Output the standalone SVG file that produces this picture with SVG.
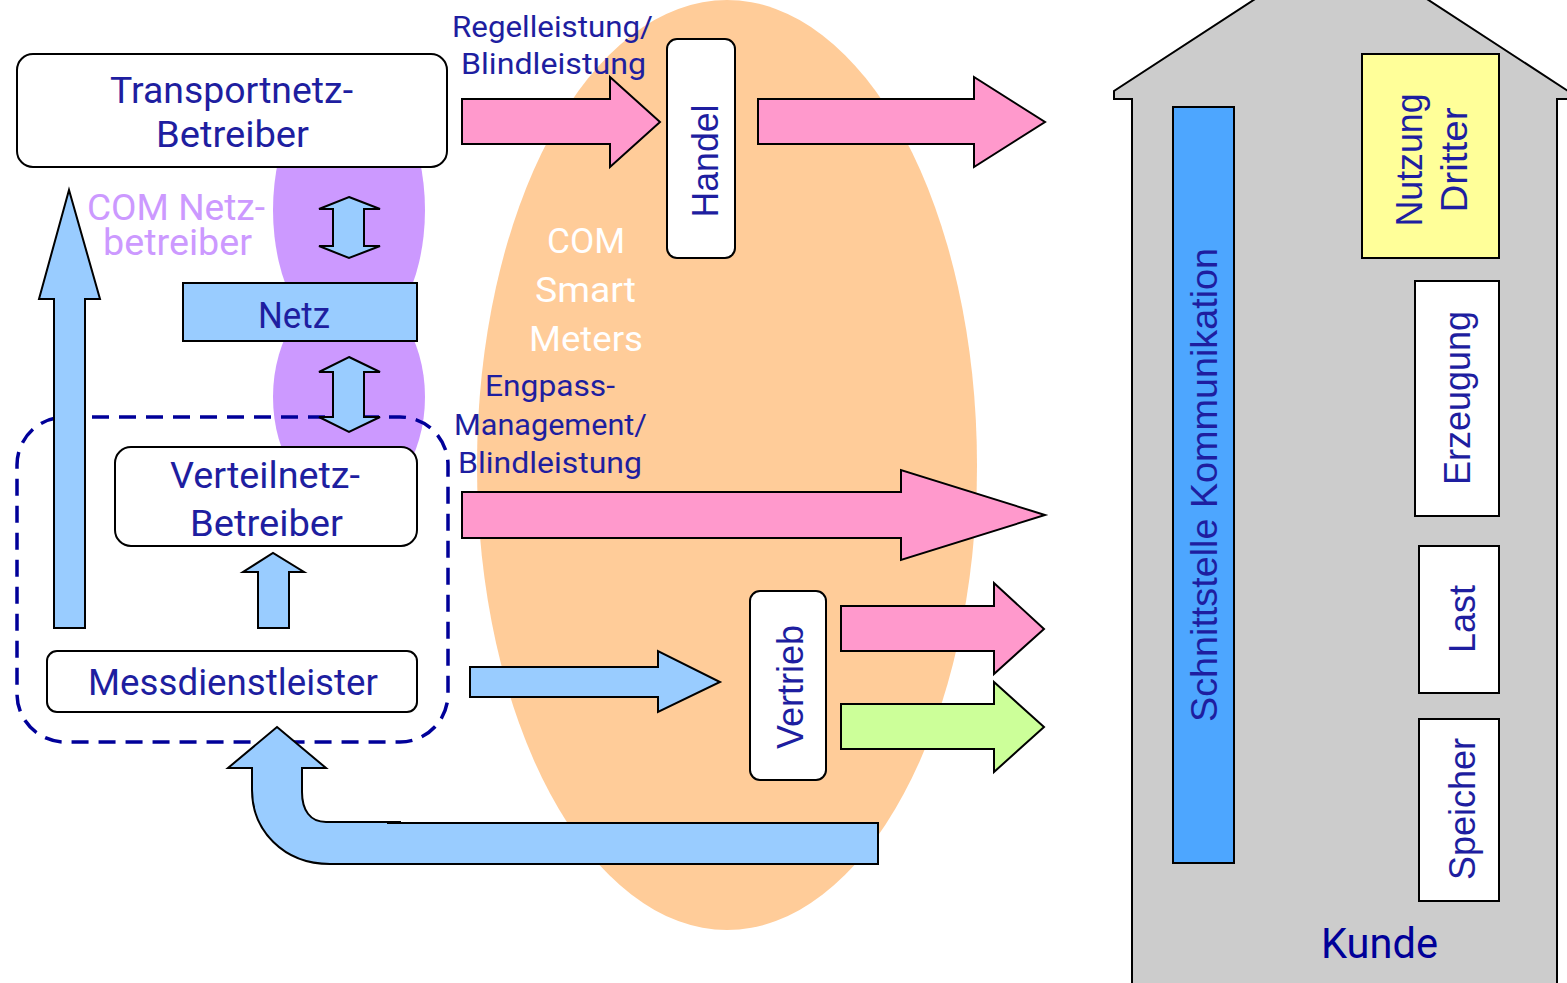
<svg xmlns="http://www.w3.org/2000/svg" width="1567" height="983" viewBox="0 0 1567 983">
<style>
.box{fill:#fff;stroke:#000;stroke-width:2}
.blue{fill:#99CCFF;stroke:#000;stroke-width:2;stroke-linejoin:miter}
.pink{fill:#FF99CC;stroke:#000;stroke-width:2}
.green{fill:#CCFF99;stroke:#000;stroke-width:2}
.din{font-family:Roboto,"Liberation Sans",sans-serif;fill:#1E1EA0}
.rot{font-family:"Liberation Sans",Arial,sans-serif;font-size:36px;fill:#1E1EA0;text-anchor:middle}
</style>
<rect width="1567" height="983" fill="#fff"/>
<g id="backgrounds">
<ellipse cx="727" cy="465" rx="250" ry="465" fill="#FFCC99"/>
<ellipse cx="349" cy="210" rx="76" ry="135" fill="#CC99FF"/>
<ellipse cx="349" cy="397" rx="76" ry="110" fill="#CC99FF"/>
</g>
<g id="haus">
<path d="M1132,990 L1132,99 L1114,99 L1114,91 L1341,-57 L1568,91 L1568,99 L1557,99 L1557,990 Z" fill="#CCCCCC" stroke="#000" stroke-width="2"/>
<text x="1321" y="958" class="din" font-size="43" fill="#000099" style="fill:#000099" textLength="117" lengthAdjust="spacingAndGlyphs">Kunde</text>
</g>
<g id="schnittstelle">
<rect x="1173" y="107" width="61" height="756" fill="#4DA6FF" stroke="#000" stroke-width="2"/>
<text class="rot" transform="translate(1217,485) rotate(-90)" textLength="474" lengthAdjust="spacingAndGlyphs">Schnittstelle Kommunikation</text>
</g>
<g id="nutzung">
<rect x="1362" y="54" width="137" height="204" fill="#FFFF99" stroke="#000" stroke-width="2"/>
<text class="rot" transform="translate(1422,160) rotate(-90)" textLength="133" lengthAdjust="spacingAndGlyphs">Nutzung</text>
<text class="rot" transform="translate(1467,160) rotate(-90)" textLength="105" lengthAdjust="spacingAndGlyphs">Dritter</text>
</g>
<g id="erzeugung">
<rect x="1415" y="281" width="84" height="235" class="box"/>
<text class="rot" transform="translate(1470,398) rotate(-90)">Erzeugung</text>
</g>
<g id="last">
<rect x="1419" y="546" width="80" height="147" class="box"/>
<text class="rot" transform="translate(1475,619) rotate(-90)">Last</text>
</g>
<g id="speicher">
<rect x="1419" y="719" width="80" height="182" class="box"/>
<text class="rot" transform="translate(1475,809) rotate(-90)">Speicher</text>
</g>
<g id="connectors">
<path class="pink" d="M462,99 L610,99 L610,77 L660,122 L610,167 L610,144 L462,144 Z"/>
<path class="pink" d="M758,99 L974,99 L974,77 L1045,122 L974,167 L974,144 L758,144 Z"/>
<path class="pink" d="M462,492 L901,492 L901,470 L1045,515 L901,560 L901,538 L462,538 Z"/>
<path class="pink" d="M841,606 L994,606 L994,583 L1044,629 L994,674 L994,651 L841,651 Z"/>
<path class="green" d="M841,704 L994,704 L994,682 L1044,727 L994,772 L994,749 L841,749 Z"/>
<path class="blue" d="M470,667 L658,667 L658,651 L720,682 L658,712 L658,697 L470,697 Z"/>
<path class="blue" d="M349,197 L380,209 L364,209 L364,246 L380,246 L349,258 L319,246 L333,246 L333,209 L319,209 Z"/>
<rect x="17" y="417" width="431" height="325" rx="48" ry="48" fill="none" stroke="#000099" stroke-width="3.5" stroke-dasharray="17 10"/>
<path class="blue" d="M349,357 L380,372 L364,372 L364,417 L380,417 L349,432 L319,417 L333,417 L333,372 L319,372 Z"/>
<path class="blue" d="M54,628 L54,299 L39,299 L69,190 L100,299 L85,299 L85,628 Z"/>
<path class="blue" d="M258,628 L258,572 L243,572 L273,553 L304,572 L289,572 L289,628 Z"/>
<path class="blue" d="M277,727 L326,768 L302,768 L302,792 C302,810 310,822 326,822 L400,822 L400,864 L330,864 C283,864 252,830 252,790 L252,768 L228,768 Z"/>
<path d="M387,823 L878,823 L878,864 L387,864" fill="#99CCFF" stroke="#000" stroke-width="2"/>
</g>
<g id="transportnetz">
<rect x="17" y="54" width="430" height="113" rx="16" class="box"/>
<text x="110" y="103" class="din" font-size="37" textLength="243" lengthAdjust="spacingAndGlyphs">Transportnetz-</text>
<text x="156" y="147" class="din" font-size="37" textLength="153" lengthAdjust="spacingAndGlyphs">Betreiber</text>
</g>
<g id="com-netzbetreiber">
<text x="87" y="220" class="din" font-size="36" style="fill:#CC99FF" textLength="178" lengthAdjust="spacingAndGlyphs">COM Netz-</text>
<text x="103" y="255" class="din" font-size="36" style="fill:#CC99FF" textLength="149" lengthAdjust="spacingAndGlyphs">betreiber</text>
</g>
<g id="netz">
<rect x="183" y="283" width="234" height="58" class="blue"/>
<text x="258" y="328" class="din" font-size="36" textLength="72" lengthAdjust="spacingAndGlyphs">Netz</text>
</g>
<g id="verteilnetz">
<rect x="115" y="447" width="302" height="99" rx="16" class="box"/>
<text x="170" y="488" class="din" font-size="37" textLength="190" lengthAdjust="spacingAndGlyphs">Verteilnetz-</text>
<text x="190" y="536" class="din" font-size="37" textLength="153" lengthAdjust="spacingAndGlyphs">Betreiber</text>
</g>
<g id="messdienstleister">
<rect x="47" y="651" width="370" height="61" rx="10" class="box"/>
<text x="88" y="695" class="din" font-size="36" textLength="290" lengthAdjust="spacingAndGlyphs">Messdienstleister</text>
</g>
<g id="handel">
<rect x="667" y="39" width="68" height="219" rx="10" class="box"/>
<text class="rot" transform="translate(718,161) rotate(-90)" textLength="113" lengthAdjust="spacingAndGlyphs">Handel</text>
</g>
<g id="vertrieb">
<rect x="750" y="591" width="76" height="189" rx="10" class="box"/>
<text class="rot" transform="translate(803,687) rotate(-90)">Vertrieb</text>
</g>
<g id="com-smart-meters">
<text x="547" y="253" class="din" font-size="35" style="fill:#fff" textLength="78" lengthAdjust="spacingAndGlyphs">COM</text>
<text x="535" y="302" class="din" font-size="35" style="fill:#fff" textLength="101" lengthAdjust="spacingAndGlyphs">Smart</text>
<text x="529" y="351" class="din" font-size="35" style="fill:#fff" textLength="114" lengthAdjust="spacingAndGlyphs">Meters</text>
</g>
<g id="labels">
<text x="452" y="37" class="din" font-size="29" textLength="201" lengthAdjust="spacingAndGlyphs">Regelleistung/</text>
<text x="461" y="74" class="din" font-size="29" textLength="185" lengthAdjust="spacingAndGlyphs">Blindleistung</text>
<text x="485" y="396" class="din" font-size="29" textLength="130" lengthAdjust="spacingAndGlyphs">Engpass-</text>
<text x="454" y="435" class="din" font-size="29" textLength="193" lengthAdjust="spacingAndGlyphs">Management/</text>
<text x="458" y="473" class="din" font-size="29" textLength="184" lengthAdjust="spacingAndGlyphs">Blindleistung</text>
</g>
</svg>
